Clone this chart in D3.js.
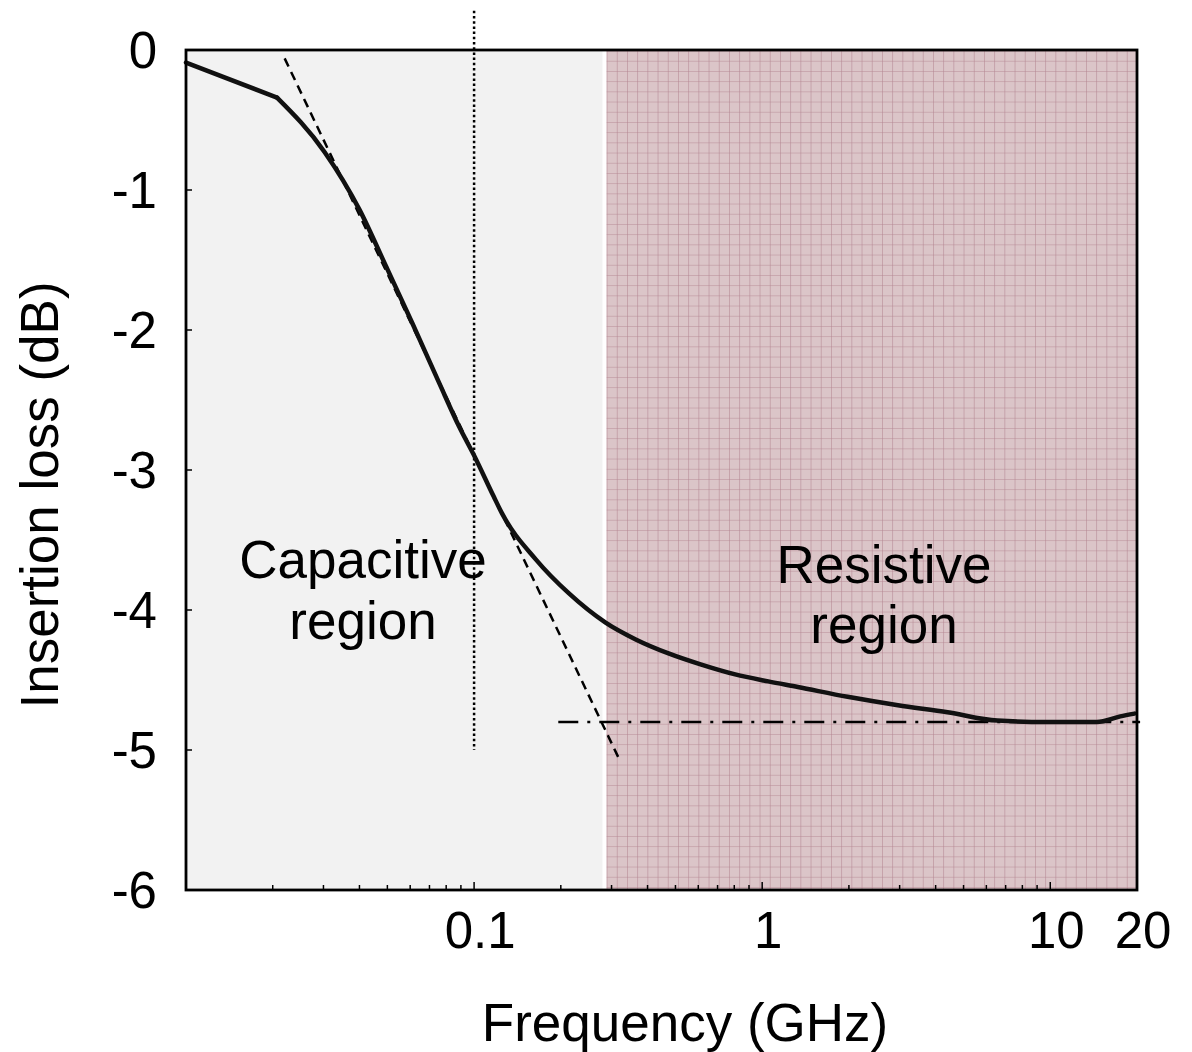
<!DOCTYPE html>
<head>
    <meta charset="utf-8">
    <title>Insertion loss</title>
    <script src="https://d3js.org/d3.v7.min.js"></script>
    <style>
        body { margin: 0; background: #fff; }
        svg text { font-family: "Liberation Sans", Arial, sans-serif; fill: #000; }
    </style>
</head>
<body>
    <div id="container"></div>
    <script>
        //------------------------ DATA ------------------------//
        var freqGHz = [0.01, 0.0207, 0.0303, 0.040, 0.0496, 0.061, 0.0757, 0.0887, 0.1008, 0.117, 0.125,
            0.164, 0.213, 0.286, 0.364, 0.473, 0.615, 0.806, 1.05, 1.33, 1.98, 2.96, 4.4, 6.55, 9.76, 14.5, 17.5, 19.6];
        var lossDb = [-0.09, -0.34, -0.73, -1.14, -1.55, -1.95, -2.38, -2.69, -2.91, -3.19, -3.31,
            -3.64, -3.88, -4.09, -4.21, -4.31, -4.39, -4.46, -4.51, -4.55, -4.62, -4.68, -4.73, -4.79, -4.80, -4.80, -4.76, -4.74];

        var asymptoteF = [0.022, 0.318];     // capacitive slope (dashed)
        var asymptoteL = [-0.06, -5.06];
        var floorF = [0.196, 20.5];          // resistive floor (dash-dot)
        var floorL = [-4.8, -4.8];
        var markerF = 0.1;                   // dotted vertical
        var markerL = [0.28, -5.0];
        var regionSplit = [0.279, 0.288];    // grey ends / pink begins

        var yTicks = [0, -1, -2, -3, -4, -5, -6];
        var xLabels = [0.1, 1, 10, 20];
        var xLabelText = ["0.1", "1", "10", "20"];
        var xMinor = [0.02, 0.03, 0.04, 0.05, 0.06, 0.07, 0.08, 0.09,
            0.2, 0.3, 0.4, 0.5, 0.6, 0.7, 0.8, 0.9,
            2, 3, 4, 5, 6, 7, 8, 9];
        var xMajor = [0.1, 1, 10];

        //------------------------ SETUP ------------------------//
        var W = 1192, H = 1052;
        var plotL = 186, plotR = 1137, plotT = 50, plotB = 890;

        var x = d3.scaleLog().domain([0.01, 20]).range([plotL, plotR]);
        var y = d3.scaleLinear().domain([0, -6]).range([plotT, plotB]);

        var svg = d3.select("#container").append("svg")
            .attr("width", W).attr("height", H);

        var defs = svg.append("defs");
        var pat = defs.append("pattern")
            .attr("id", "grid")
            .attr("patternUnits", "userSpaceOnUse")
            .attr("x", 607.5).attr("y", 51.5)
            .attr("width", 10.2).attr("height", 10.2);
        pat.append("rect").attr("width", 10.2).attr("height", 10.2).attr("fill", "#dbc5c8");
        pat.append("path").attr("d", "M10.2,0V10.2M0,10.2H10.2")
            .attr("stroke", "#b58793").attr("stroke-width", 1.1).attr("fill", "none");

        //------------------------ REGIONS ------------------------//
        svg.append("rect")
            .attr("x", plotL).attr("y", plotT)
            .attr("width", x(regionSplit[0]) - plotL).attr("height", plotB - plotT)
            .attr("fill", "#f2f2f2");

        svg.append("rect")
            .attr("x", x(regionSplit[1])).attr("y", plotT)
            .attr("width", plotR - x(regionSplit[1])).attr("height", plotB - plotT)
            .attr("fill", "url(#grid)");

        //------------------------ TICKS ------------------------//
        var tk = svg.append("g").attr("stroke", "#000").attr("stroke-width", 1.5);
        tk.selectAll(".minor").data(xMinor).join("line")
            .attr("x1", d => x(d)).attr("x2", d => x(d))
            .attr("y1", plotB).attr("y2", plotB - 5);
        tk.selectAll(".major").data(xMajor).join("line")
            .attr("x1", d => x(d)).attr("x2", d => x(d))
            .attr("y1", plotB).attr("y2", plotB - 8);
        tk.selectAll(".ytick").data(yTicks).join("line")
            .attr("x1", plotL).attr("x2", plotL + 6)
            .attr("y1", d => y(d)).attr("y2", d => y(d));

        //------------------------ LINES ------------------------//
        var line = d3.line().x(d => x(d[0])).y(d => y(d[1]));
        var smooth = d3.line().x(d => x(d[0])).y(d => y(d[1])).curve(d3.curveMonotoneX);

        svg.append("line")
            .attr("x1", x(markerF)).attr("x2", x(markerF))
            .attr("y1", y(markerL[0])).attr("y2", y(markerL[1]))
            .attr("stroke", "#000").attr("stroke-width", 2.5)
            .attr("stroke-dasharray", "2.5,2.7");

        svg.append("path")
            .attr("d", line(d3.zip(asymptoteF, asymptoteL)))
            .attr("fill", "none").attr("stroke", "#000").attr("stroke-width", 2.5)
            .attr("stroke-dasharray", "9,6");

        svg.append("path")
            .attr("d", line(d3.zip(floorF, floorL)))
            .attr("fill", "none").attr("stroke", "#000").attr("stroke-width", 2.5)
            .attr("stroke-dasharray", "20,9,3,9");

        // measured curve: straight run up to the knee, smooth after it
        var pts = d3.zip(freqGHz, lossDb);
        var curve = svg.append("g")
            .attr("fill", "none").attr("stroke", "#111").attr("stroke-width", 4.5)
            .attr("stroke-linejoin", "round").attr("stroke-linecap", "round");
        curve.append("path").attr("d", line(pts.slice(0, 2)));
        curve.append("path").attr("d", smooth(pts.slice(1)));

        //------------------------ FRAME ------------------------//
        svg.append("rect")
            .attr("x", plotL).attr("y", plotT)
            .attr("width", plotR - plotL).attr("height", plotB - plotT)
            .attr("fill", "none").attr("stroke", "#000").attr("stroke-width", 2.8);

        //------------------------ LABELS ------------------------//
        svg.selectAll(".ylab").data(yTicks).join("text")
            .attr("x", 157).attr("y", d => y(d))
            .attr("dy", "0.36em")
            .attr("text-anchor", "end")
            .style("font-size", "51px")
            .text(d => d);

        svg.selectAll(".xlab").data(xLabels).join("text")
            .attr("x", d => x(d) + 6).attr("y", 948)
            .attr("text-anchor", "middle")
            .style("font-size", "51px")
            .text((d, i) => xLabelText[i]);

        svg.append("text")
            .attr("x", 685).attr("y", 1041)
            .attr("text-anchor", "middle")
            .style("font-size", "53px")
            .text("Frequency (GHz)");

        svg.append("text")
            .attr("transform", "translate(58,495) rotate(-90)")
            .attr("text-anchor", "middle")
            .style("font-size", "53px")
            .text("Insertion loss (dB)");

        var notes = [["Capacitive", 363, 578], ["region", 363, 639], ["Resistive", 884, 583], ["region", 884, 643]];
        svg.selectAll(".note").data(notes).join("text")
            .attr("x", d => d[1]).attr("y", d => d[2])
            .attr("text-anchor", "middle")
            .style("font-size", "53px")
            .text(d => d[0]);
    </script>
</body>
